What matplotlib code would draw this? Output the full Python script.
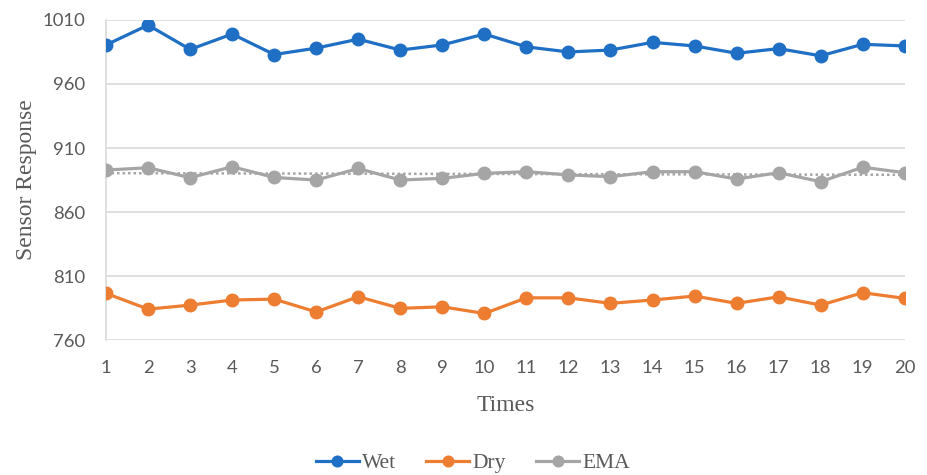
import numpy as np
import matplotlib
matplotlib.use("Agg")
import matplotlib.pyplot as plt

# ── Data ─────────────────────────────────────────────────────────────────────
TIMES = np.arange(1, 21)
WET = [990.5, 1006, 987, 999, 983, 988, 995, 986.5, 990.5, 999,
       989, 985, 986.5, 992.5, 989.7, 984, 987.6, 982, 991, 989.7]
DRY = [796.5, 784.2, 787.3, 791.3, 792, 782, 793.9, 784.8, 786, 780.8,
       793, 793, 788.7, 791.3, 794.4, 788.7, 793.8, 787.3, 797, 792.6]
EMA = [892.8, 894.6, 886.8, 895.4, 887, 885, 894, 885, 886.3, 890.2,
       891.5, 889, 887.6, 891.5, 891.5, 885.8, 890.7, 883.7, 895, 890.7]
Y_TICKS = [760, 810, 860, 910, 960, 1010]

BLUE = "#1f6fc5"
ORANGE = "#ed7d31"
GRAY = "#a5a5a5"
TEXT = "#595959"


def main():
    fig = plt.figure(figsize=(9.27, 4.75), dpi=100)
    ax = fig.add_axes([0.1144, 0.284, 0.8616, 0.674])

    style = dict(lw=2.3, marker="o", markersize=9, zorder=3)
    ax.plot(TIMES, WET, color=BLUE, label="Wet", **style)
    ax.plot(TIMES, DRY, color=ORANGE, label="Dry", **style)
    ax.plot(TIMES, EMA, color=GRAY, label="EMA", **style)

    # linear trendline for the EMA series
    slope, icpt = np.polyfit(TIMES, EMA, 1)
    ax.plot(TIMES, slope * TIMES + icpt, color=GRAY, lw=1.8, ls=(0, (1, 1.2)),
            zorder=2)

    ax.set_xlim(1, 20)
    ax.set_ylim(760, 1010)
    ax.set_xticks(TIMES)
    ax.set_yticks(Y_TICKS)
    ax.tick_params(length=0, labelsize=13.3, labelcolor=TEXT)
    ax.tick_params(axis="x", pad=14)
    ax.tick_params(axis="y", pad=15)
    for lbl in ax.get_xticklabels() + ax.get_yticklabels():
        lbl.set_family("Lato")

    ax.grid(True, axis="y", color="#d9d9d9", lw=1.2, zorder=0)
    for side in ["top", "right", "bottom"]:
        ax.spines[side].set_visible(False)
    ax.spines["left"].set_color("#d9d9d9")
    ax.spines["left"].set_linewidth(1.2)

    ax.set_xlabel("Times", fontsize=17, color=TEXT, family="Liberation Serif",
                  labelpad=14)
    ax.set_ylabel("Sensor Response", fontsize=17, color=TEXT,
                  family="Liberation Serif", labelpad=4)

    fig.legend(loc="center", bbox_to_anchor=(0.51, 0.025), ncol=3, frameon=False,
               prop={"family": "Liberation Serif", "size": 15.5},
               labelcolor=TEXT, handlelength=2.0, columnspacing=1.4,
               handletextpad=0.15, markerscale=0.85)

    fig.savefig("out.png", dpi=100)
    plt.close(fig)


if __name__ == "__main__":
    main()
